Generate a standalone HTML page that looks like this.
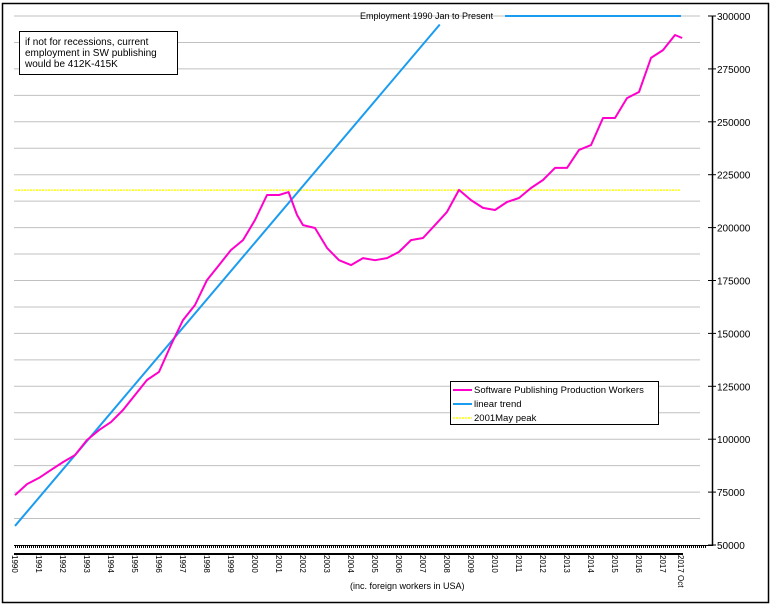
<!DOCTYPE html>
<html><head><meta charset="utf-8"><style>
body{margin:0;background:#fff;width:772px;height:607px;overflow:hidden}
svg text{font-family:"Liberation Sans",sans-serif}
</style></head><body>
<svg id="chart" width="772" height="607" xmlns="http://www.w3.org/2000/svg">
<rect x="2.5" y="3.5" width="766" height="599" fill="none" stroke="#000" stroke-width="1.5"/>
<g id="grid"></g>
<g id="axes"></g>
<g id="series"></g>
<text x="360" y="19" font-size="9">Employment 1990 Jan to Present</text>
<line x1="505" y1="16" x2="681" y2="16" stroke="#1a9cf0" stroke-width="2"/>
<g>
<rect x="19.5" y="31.5" width="158" height="43" fill="#fff" stroke="#000"/>
<text x="25" y="45" font-size="10">if not for recessions, current</text>
<text x="25" y="56" font-size="10">employment in SW publishing</text>
<text x="25" y="67" font-size="10">would be 412K-415K</text>
</g>
<g>
<rect x="450.5" y="381.5" width="208" height="43" fill="#fff" stroke="#000"/>
<line x1="453" y1="390" x2="472" y2="390" stroke="#ff00cc" stroke-width="2"/>
<text x="474" y="393" font-size="9.5">Software Publishing Production Workers</text>
<line x1="453" y1="404" x2="472" y2="404" stroke="#1a9cf0" stroke-width="2"/>
<text x="474" y="407" font-size="9.5">linear trend</text>
<line x1="453" y1="418" x2="472" y2="418" stroke="#ffff00" stroke-width="1.5" stroke-dasharray="2,1"/>
<text x="474" y="421" font-size="9.5">2001May peak</text>
</g>
<text x="350" y="589" font-size="9">(inc. foreign workers in USA)</text>
</svg>
<script>
const years=[1990,1990.5,1991,1991.5,1992,1992.5,1993,1993.5,1994,1994.5,1995,1995.5,1996,1996.5,1997,1997.5,1998,1998.5,1999,1999.5,2000,2000.5,2001,2001.4,2001.75,2002,2002.5,2003,2003.5,2004,2004.5,2005,2005.5,2006,2006.5,2007,2007.5,2008,2008.5,2009,2009.5,2010,2010.5,2011,2011.5,2012,2012.5,2013,2013.5,2014,2014.5,2015,2015.5,2016,2016.5,2017,2017.5,2017.8];
const workers=[73600,78800,81700,85500,89200,92500,99600,104300,108100,113800,120900,128000,131800,144500,156300,163400,175200,182300,189400,194100,203600,215400,215400,216800,206000,201200,199800,190400,184600,182300,185600,184600,185600,188500,194100,195100,201200,207400,217800,213000,209300,208300,212100,214000,218700,222500,228200,228200,236700,239000,251800,251800,261200,264100,280200,283900,291000,289600];
const trendYears=[1990,2007.7];
const trendValues=[59000,296000];
const peakValue=[217700];
const yTicks=[50000,75000,100000,125000,150000,175000,200000,225000,250000,275000,300000];
const xLabels=[1990,1991,1992,1993,1994,1995,1996,1997,1998,1999,2000,2001,2002,2003,2004,2005,2006,2007,2008,2009,2010,2011,2012,2013,2014,2015,2016,2017];
const X=y=>15+(y-1990)*24;
const Y=v=>545-(v-50000)*529/250000;
const NS="http://www.w3.org/2000/svg";
function mk(parent,tag,attrs){const e=document.createElementNS(NS,tag);for(const k in attrs)e.setAttribute(k,attrs[k]);document.getElementById(parent).appendChild(e);return e;}
for(let v=62500;v<=300000;v+=12500){
 const g=mk('grid','line',{x1:14,x2:700,y1:Y(v),y2:Y(v),stroke:'#c0c0c0','stroke-width':1});
 
 
}
const ra=mk('axes','line',{x1:712.5,x2:712.5,y1:16,y2:546,stroke:'#000','stroke-width':1.5});


const bl=mk('axes','line',{x1:14,x2:712,y1:545.5,y2:545.5,stroke:'#000','stroke-width':1});


yTicks.forEach(v=>{
 const t=mk('axes','line',{x1:708,x2:716,y1:Y(v),y2:Y(v),stroke:'#000'});
 
 
 const l=mk('axes','text',{x:717,y:Y(v)+4,'font-size':10});
 l.textContent=v;
 
 
});
for(let m=0;m<=345;m+=1){
 const xx=Math.round(X(1990+m/12))+0.5;
 const t=mk('axes','line',{x1:xx,x2:xx,y1:545,y2:548,stroke:'#000','stroke-width':1,'shape-rendering':'crispEdges'});
 
 
}
const xa=mk('axes','line',{x1:14,x2:683,y1:554,y2:554,stroke:'#000','stroke-width':2});


xLabels.forEach(yr=>{
 const l=mk('axes','text',{x:0,y:0,'font-size':8,transform:`translate(${X(yr)-3},555) rotate(90)`});
 l.textContent=yr;
 
 
});
const oc=mk('axes','text',{x:0,y:0,'font-size':8,transform:`translate(${X(2017.75)-3},555) rotate(90)`});
oc.textContent='2017 Oct';


const pk=mk('series','line',{x1:15,x2:681,y1:Y(peakValue[0]),y2:Y(peakValue[0]),stroke:'#ffff00','stroke-width':1.5,'stroke-dasharray':'2,1'});


const tr=mk('series','line',{x1:X(trendYears[0]),y1:Y(trendValues[0]),x2:X(trendYears[1]),y2:Y(trendValues[1]),stroke:'#1a9cf0','stroke-width':2});


const pts=years.map((y,i)=>X(y).toFixed(1)+','+Y(workers[i]).toFixed(1)).join(' ');
const wl=mk('series','polyline',{points:pts,fill:'none',stroke:'#ff00cc','stroke-width':2,'stroke-linejoin':'round'});


</script>
</body></html>
